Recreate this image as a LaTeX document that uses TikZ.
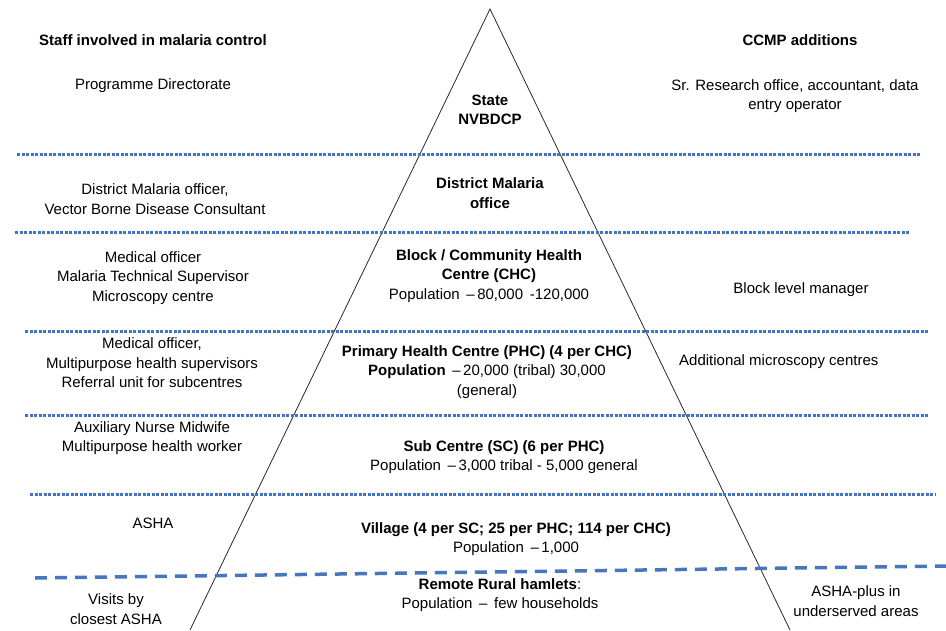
\documentclass[tikz,border=0pt]{standalone}
\usepackage{fontspec}
\setmainfont{Liberation Sans}
\definecolor{rowblue}{RGB}{68, 114, 196}
\definecolor{hamletblue}{RGB}{72, 118, 190}
\definecolor{pyramidgrey}{RGB}{40, 40, 40}

\begin{document}
\begin{tikzpicture}[x=1pt, y=-1pt,
  every node/.style={font=\fontsize{15}{19.5}\selectfont, align=center, inner sep=0pt},
  rowline/.style={rowblue, line width=3pt, dash pattern=on 3pt off 1.5pt},
  hamletline/.style={hamletblue, line width=3.5pt, dash pattern=on 12pt off 8pt}]
\useasboundingbox (0,0) rectangle (946,630);
\draw[pyramidgrey, line width=0.8pt] (190,630) -- (490,9) -- (790,630);
\draw[rowline] (17,154) -- (920,154);
\draw[rowline] (15,232) -- (910,232);
\draw[rowline] (25,331) -- (928,331);
\draw[rowline] (25,415) -- (928,415);
\draw[rowline] (30,494) -- (936,494);
\draw[hamletline] (35,578) -- (946,566);
\node (stafftitle) at (153,40) {\textbf{Staff involved in malaria control}};
\node (ccmptitle) at (800,40) {\textbf{CCMP additions}};
\node (progdir) at (153,86) {Programme Directorate};
\node (state) at (490,110) {\textbf{State}\\\textbf{NVBDCP}};
\node (staffextra) at (795,96) {Sr. Research office, accountant, data\\entry operator};
\node (distleft) at (155,199) {District Malaria officer,\\Vector Borne Disease Consultant};
\node (distcentre) at (490,193) {\textbf{District Malaria}\\\textbf{office}};
\node (blockleft) at (153,278) {Medical officer\\Malaria Technical Supervisor\\Microscopy centre};
\node (blockcentre) at (489,276) {\textbf{Block / Community Health}\\\textbf{Centre (CHC)}\\Population \,--\,80,000 \,-120,000};
\node (blockright) at (801,290) {Block level manager};
\node (phcleft) at (152,363) {Medical officer,\\Multipurpose health supervisors\\Referral unit for subcentres};
\node (phccentre) at (487,372) {\textbf{Primary Health Centre (PHC) (4 per CHC)}\\\textbf{Population} \,--\,20,000 (tribal) 30,000\\(general)};
\node[anchor=west] (phcright) at (679,362) {Additional microscopy centres};
\node (scleft) at (152,438) {Auxiliary Nurse Midwife\\Multipurpose health worker};
\node (sccentre) at (504,457) {\textbf{Sub Centre (SC) (6 per PHC)}\\Population \,--\,3,000 tribal - 5,000 general};
\node (ashaleft) at (153,523) {ASHA};
\node (village) at (516,539) {\textbf{Village (4 per SC; 25 per PHC; 114 per CHC)}\\Population \,--\,1,000};
\node (visits) at (116,609) {Visits by\\closest ASHA};
\node (hamlets) at (500,595) {\textbf{Remote Rural hamlets}:\\Population \,--\, few households};
\node (ashaplus) at (856,601) {ASHA-plus in\\underserved areas};
\end{tikzpicture}
\end{document}
